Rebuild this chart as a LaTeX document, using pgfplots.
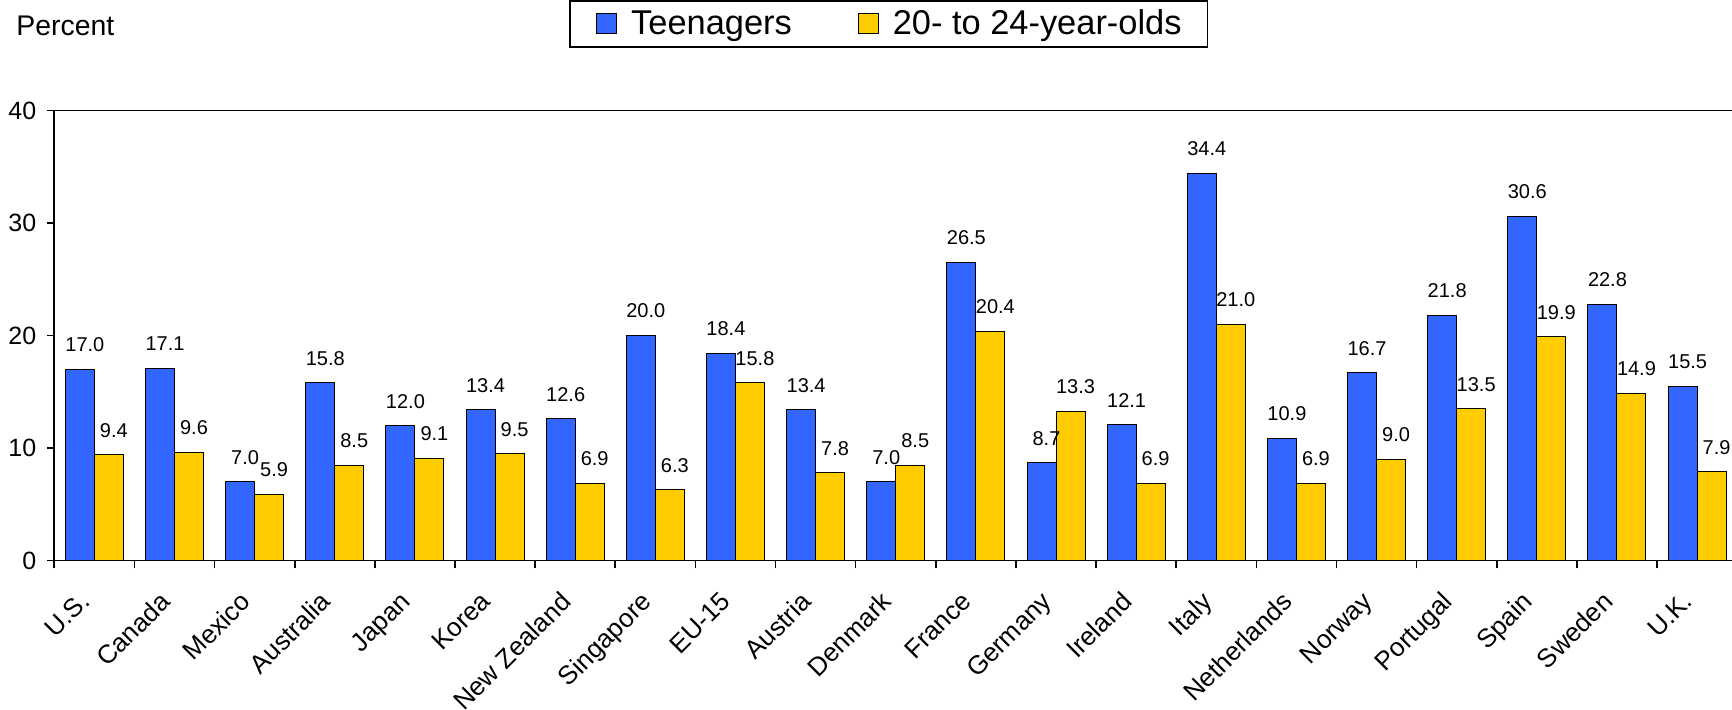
\documentclass[border=0pt]{standalone}
\usepackage{fontspec}
\setmainfont{Liberation Sans}
\usepackage{pgfplots}
\usepackage{pgfplotstable}
\pgfplotsset{compat=1.18}
\definecolor{teenblue}{HTML}{3366FF}
\definecolor{youngyellow}{HTML}{FFCC00}
\pgfplotstableread{
idx teen young
0  17.0 9.4
1  17.1 9.6
2  7.0  5.9
3  15.8 8.5
4  12.0 9.1
5  13.4 9.5
6  12.6 6.9
7  20.0 6.3
8  18.4 15.8
9  13.4 7.8
10 7.0  8.5
11 26.5 20.4
12 8.7  13.3
13 12.1 6.9
14 34.4 21.0
15 10.9 6.9
16 16.7 9.0
17 21.8 13.5
18 30.6 19.9
19 22.8 14.9
20 15.5 7.9
}\datatable
\begin{document}
\begin{tikzpicture}
\begin{axis}[
  scale only axis,
  width=838.9pt, height=225pt,
  xmin=-0.5, xmax=20.437,
  ymin=0, ymax=40,
  clip=false,
  axis x line*=box, axis y line*=left,
  every outer x axis line/.append style={-},
  every outer y axis line/.append style={-},
  every inner x axis line/.append style={-},
  every inner y axis line/.append style={-},
  axis line style={-, line width=0.8pt, black},
  xtick pos=left, ytick pos=left,
  tick align=outside,
  major tick length=3.8pt,
  tick style={black, line width=0.8pt},
  /pgf/number format/assume math mode=true,
  ytick={0,10,20,30,40},
  yticklabel style={font=\fontsize{12.5}{14}\selectfont, inner sep=0pt, xshift=-5pt},
  xtick={-0.5,0.5,...,19.5},
  xticklabels={},
  extra x ticks={0,1,...,20},
  extra x tick labels={U.S.,Canada,Mexico,Australia,Japan,Korea,New Zealand,Singapore,EU-15,Austria,Denmark,France,Germany,Ireland,Italy,Netherlands,Norway,Portugal,Spain,Sweden,U.K.},
  extra x tick style={major tick length=0pt,
    xticklabel style={font=\fontsize{13}{15}\selectfont, inner sep=0pt, xshift=-8pt, yshift=-14.5pt, rotate=45, anchor=north east}},
  ybar=0pt, bar width=14.5pt,
  nodes near coords={\pgfmathprintnumber[fixed,fixed zerofill,precision=1]{\pgfplotspointmeta}},
  every node near coord/.append style={font=\fontsize{10}{12}\selectfont, inner sep=0pt, anchor=south, yshift=8.5pt, xshift=2.5pt, black},
  legend columns=2,
  legend style={at={(axis description cs:0.307,1.246)}, anchor=north west, draw=black, line width=0.8pt,
    font=\fontsize{17.2}{20}\selectfont, inner xsep=13pt, inner ysep=4.5pt,
    nodes={inner sep=0pt},
    /tikz/every odd column/.append style={column sep=7pt},
    /tikz/every even column/.append style={column sep=33pt}},
]
\addplot[fill=teenblue, draw=black, line width=0.5pt,
  legend image code/.code={\draw[fill=teenblue,draw=black,line width=0.5pt] (4pt,-5pt) rectangle (14pt,5pt);}]
  table[x=idx,y=teen]{\datatable};
\addlegendentry{Teenagers}
\addplot[fill=youngyellow, draw=black, line width=0.5pt,
  legend image code/.code={\draw[fill=youngyellow,draw=black,line width=0.5pt] (0pt,-5pt) rectangle (10pt,5pt);}]
  table[x=idx,y=young]{\datatable};
\addlegendentry{20- to 24-year-olds}
\end{axis}
\node[anchor=base west, inner sep=0pt, font=\fontsize{14.2}{17}\selectfont] at (-19.15pt,262.35pt) {Percent};
\pgfresetboundingbox
\path[use as bounding box] (-27.15pt,-74.65pt) rectangle (838.85pt,280.35pt);
\end{tikzpicture}
\end{document}
